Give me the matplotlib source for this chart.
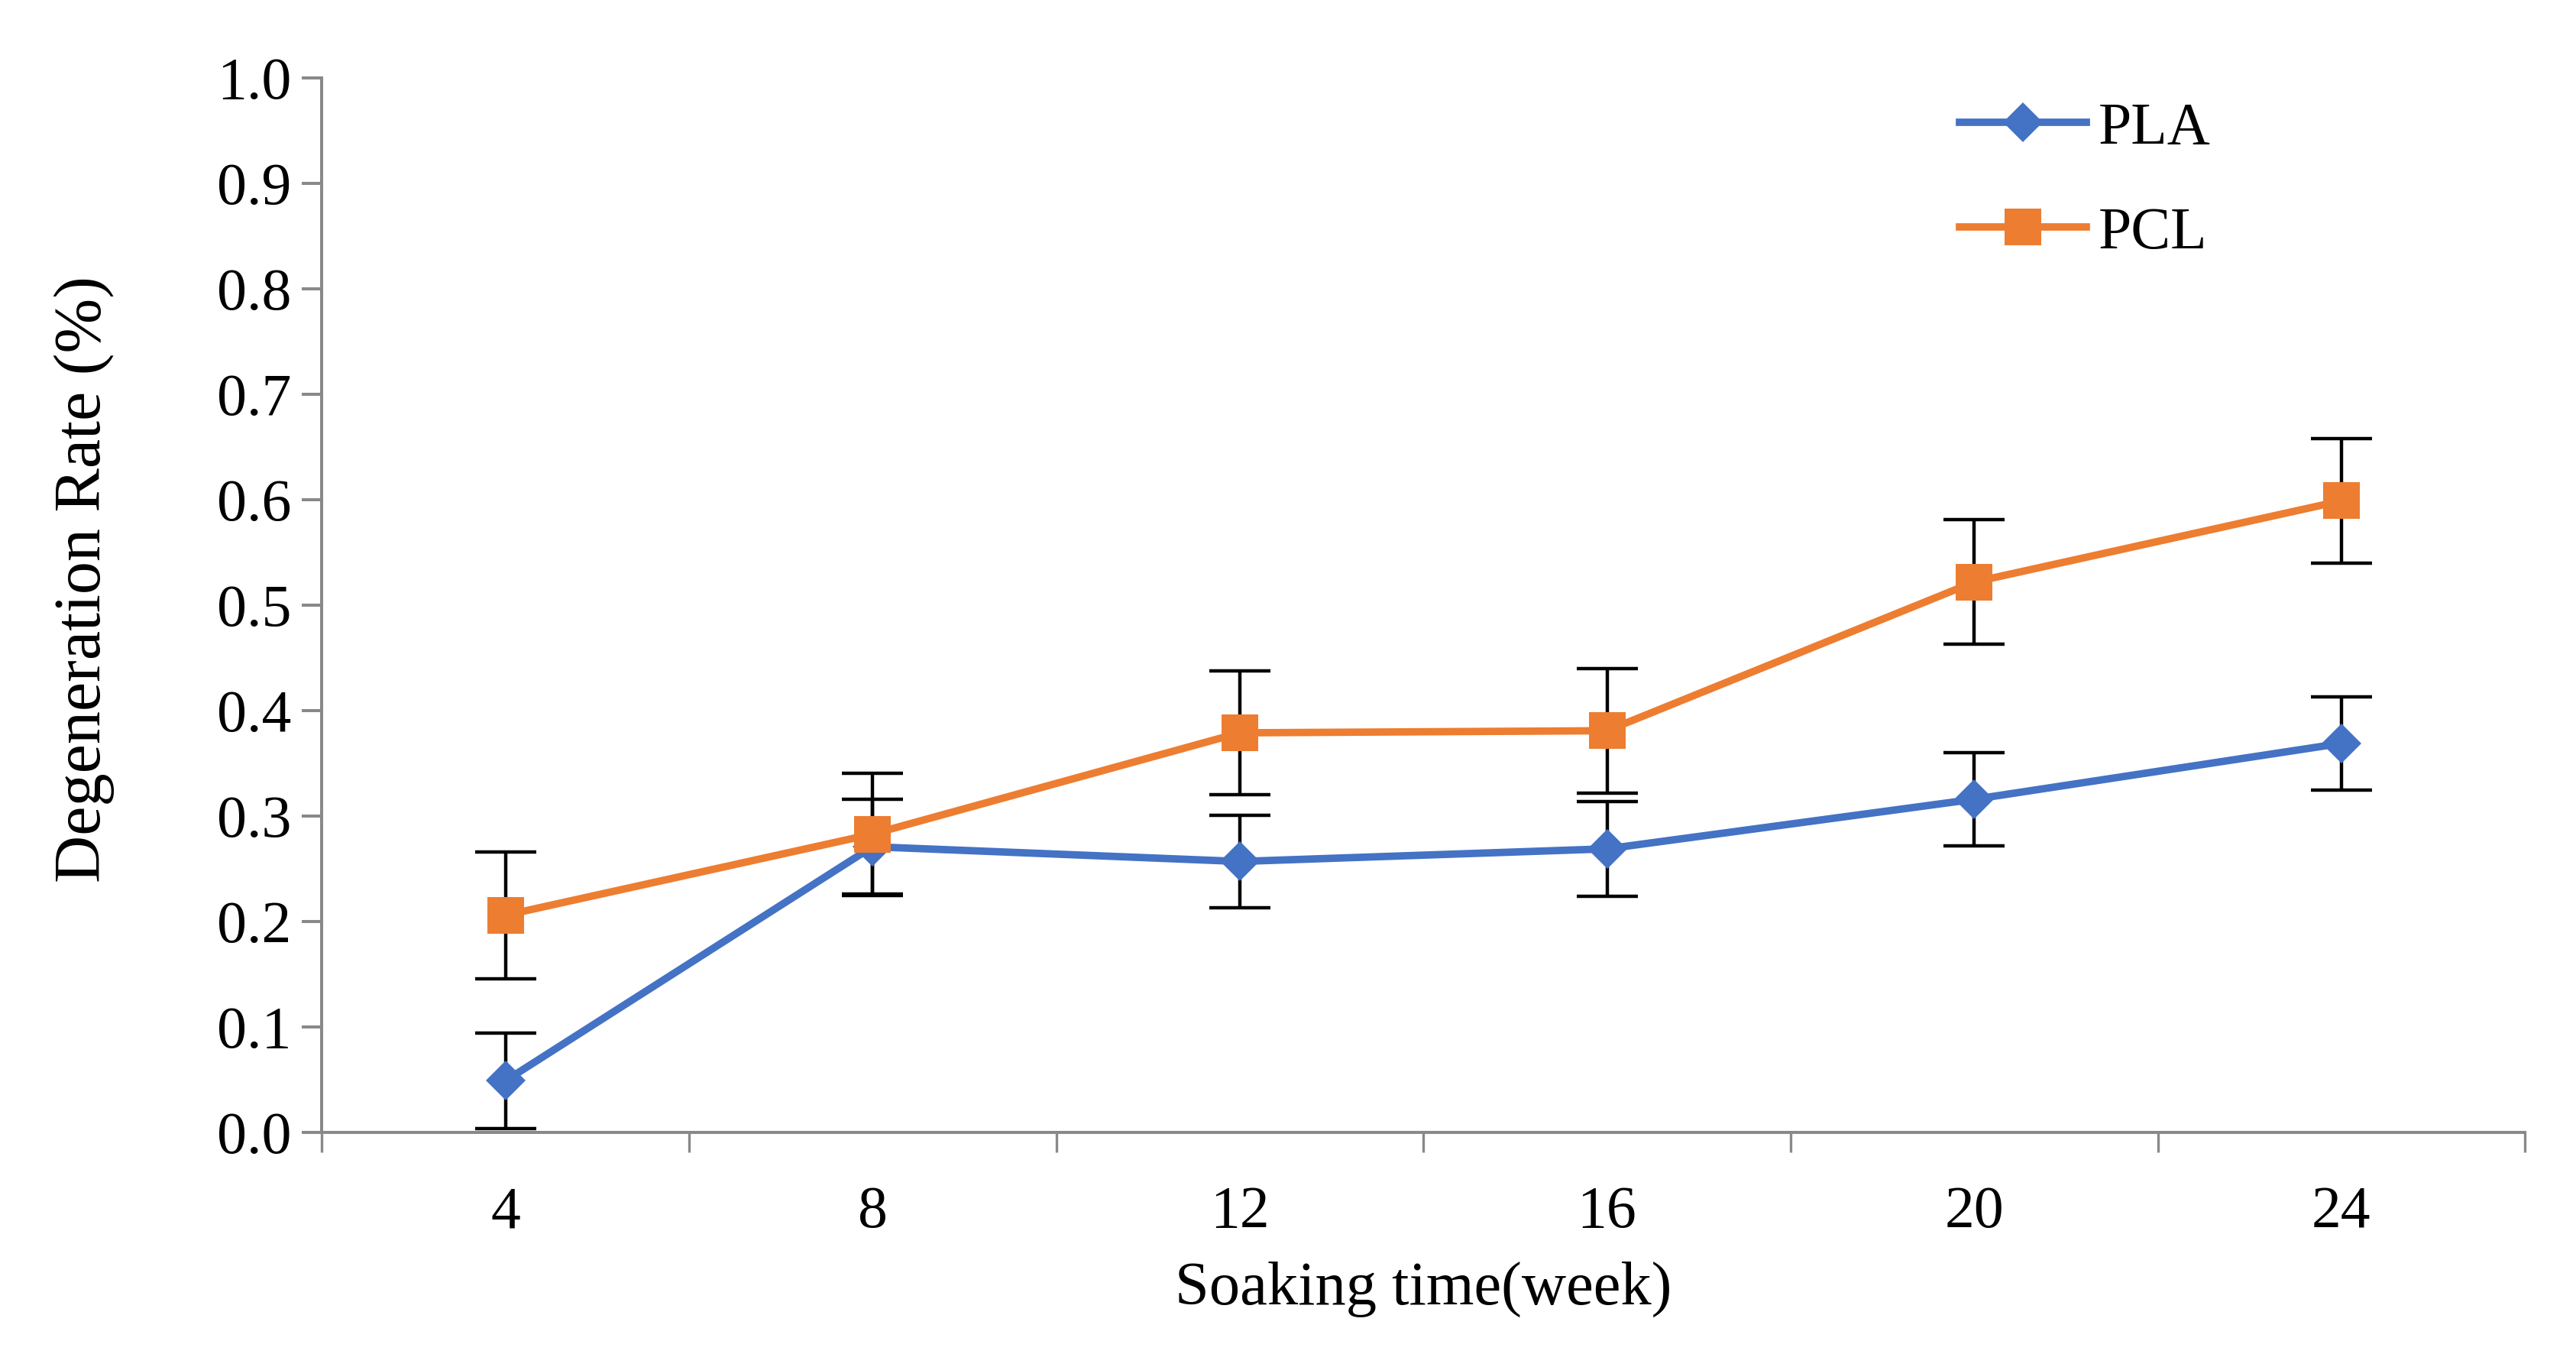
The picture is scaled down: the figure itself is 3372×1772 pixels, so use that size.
import matplotlib
matplotlib.use("Agg")
import matplotlib.pyplot as plt
from matplotlib.ticker import FormatStrFormatter, FixedLocator

weeks = [4, 8, 12, 16, 20, 24]
pla = [0.049, 0.271, 0.257, 0.269, 0.316, 0.369]
pla_err = [0.045, 0.045, 0.044, 0.045, 0.044, 0.044]
pcl = [0.206, 0.283, 0.379, 0.381, 0.522, 0.599]
pcl_err = [0.060, 0.058, 0.059, 0.059, 0.059, 0.059]
yticks = [0.0, 0.1, 0.2, 0.3, 0.4, 0.5, 0.6, 0.7, 0.8, 0.9, 1.0]
xbounds = [2, 6, 10, 14, 18, 22, 26]

plt.rcParams['font.family'] = ['Liberation Serif', 'DejaVu Serif']

fig = plt.figure(figsize=(16.86, 8.86), dpi=200)
ax = fig.add_axes([0.1249, 0.1636, 0.8553, 0.7788])

blue = '#4472C4'
orange = '#ED7D31'
gray = '#898989'

ax.errorbar(weeks, pla, yerr=pla_err, fmt='none', ecolor='black', elinewidth=1.6,
            capsize=14.5, capthick=1.6, zorder=2)
ax.errorbar(weeks, pcl, yerr=pcl_err, fmt='none', ecolor='black', elinewidth=1.6,
            capsize=14.5, capthick=1.6, zorder=2)
ax.plot(weeks, pla, color=blue, lw=3.5, marker='D', markersize=13,
        markeredgewidth=0, label='PLA', zorder=3)
ax.plot(weeks, pcl, color=orange, lw=3.5, marker='s', markersize=17,
        markeredgewidth=0, label='PCL', zorder=4)

ax.set_xlim(xbounds[0], xbounds[-1])
ax.set_ylim(0, 1.0)
ax.set_yticks(yticks)
ax.yaxis.set_major_formatter(FormatStrFormatter('%.1f'))
ax.set_xticks(weeks)
ax.set_xticklabels([str(w) for w in weeks])
ax.xaxis.set_minor_locator(FixedLocator(xbounds))

for s in ['top', 'right']:
    ax.spines[s].set_visible(False)
for s in ['left', 'bottom']:
    ax.spines[s].set_color(gray)
    ax.spines[s].set_linewidth(1.45)

ax.tick_params(axis='y', which='major', length=9.2, width=1.45, color=gray,
               labelsize=28, pad=5)
ax.tick_params(axis='x', which='major', length=0, labelsize=28, pad=25)
ax.tick_params(axis='x', which='minor', length=9.2, width=1.2, color=gray)

ax.set_xlabel('Soaking time(week)', fontsize=29, labelpad=10)
ax.set_ylabel('Degeneration Rate (%)', fontsize=31)
ax.yaxis.set_label_coords(-0.094, 0.525)

leg = ax.legend(loc='upper left', bbox_to_anchor=(0.7327, 1.0), frameon=False,
                fontsize=28, handlelength=2.13, handletextpad=0.2,
                labelspacing=0.84, borderaxespad=0)

fig.savefig('out.png', dpi=200)
